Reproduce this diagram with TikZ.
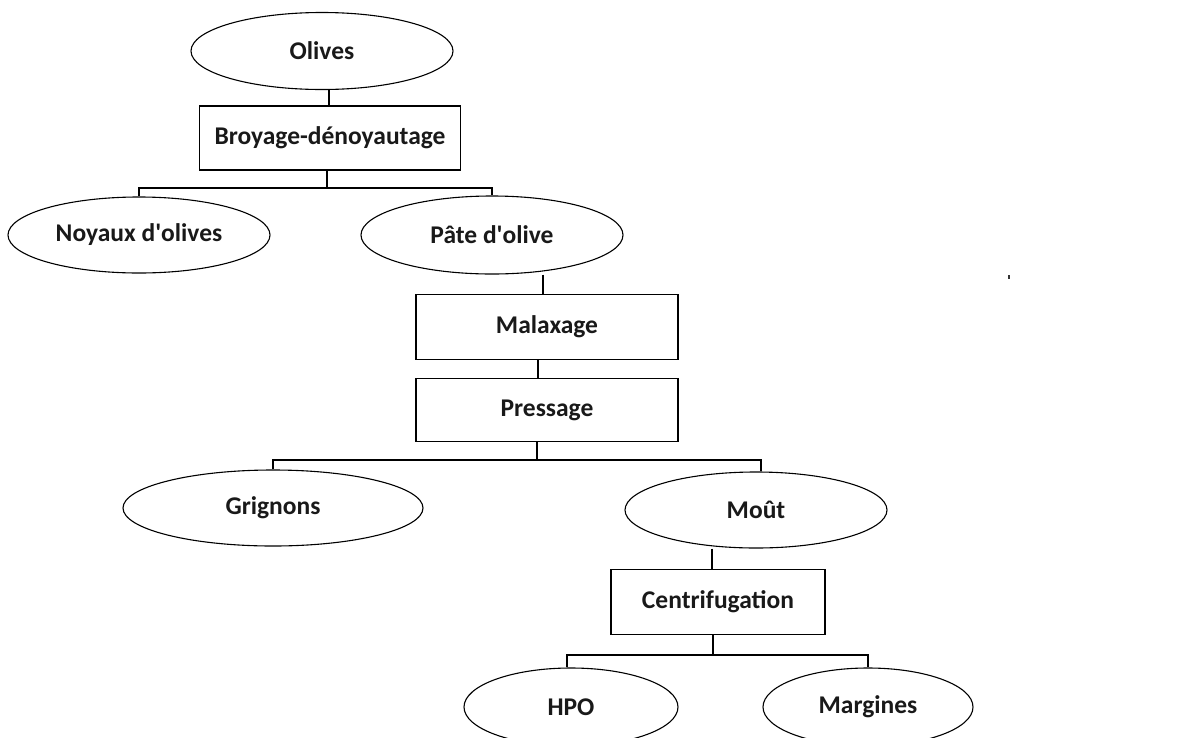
\documentclass[tikz,border=0pt]{standalone}
\usepackage{fontspec}
\setmainfont{Carlito}
\usetikzlibrary{shapes.geometric}
\begin{document}
\begin{tikzpicture}[x=1pt,y=-1pt,
  every node/.style={font=\fontsize{25.5}{30}\selectfont\bfseries, text=black!90},
  oval/.style={draw, ellipse, line width=1.1pt, inner sep=0pt},
  procbox/.style={draw, rectangle, line width=1.3pt, inner sep=0pt},
  link/.style={line width=1.3pt}]
\clip (0,0) rectangle (1184,737);
\fill[white] (0,0) rectangle (1184,737);
% nodes
\node[oval, minimum width=262pt, minimum height=77pt] (olives) at (322,51) {Olives};
\node[procbox, minimum width=261pt, minimum height=64pt] (broyage) at (330,138) {Broyage-dénoyautage};
\node[oval, minimum width=262pt, minimum height=76pt] (noyaux) at (139,235) {Noyaux d\textquotesingle olives};
\node[oval, minimum width=262pt, minimum height=78pt] (pate) at (492,235) {Pâte d\textquotesingle olive};
\node[procbox, minimum width=262pt, minimum height=65pt] (malax) at (547,327) {Malaxage};
\node[procbox, minimum width=262pt, minimum height=63pt] (press) at (547,410) {Pressage};
\node[oval, minimum width=300pt, minimum height=76pt] (grig) at (273,508) {Grignons};
\node[oval, minimum width=262pt, minimum height=76pt] (mout) at (756,510) {Moût};
\node[procbox, minimum width=214pt, minimum height=65pt] (centri) at (718,602) {Centrifugation};
\node[oval, minimum width=214pt, minimum height=78pt] (hpo) at (571,707) {HPO};
\node[oval, minimum width=210pt, minimum height=78pt] (marg) at (868,707) {Margines};
% junctions
\coordinate (j1) at (327,188);
\coordinate (j2) at (537,460);
\coordinate (j3) at (713,655);
% connectors
\draw[link] (olives.south -| 329,0) -- (broyage.north -| 329,0);
\draw[link] (broyage.south -| j1) -- (j1);
\draw[link] (noyaux.north) |- (j1) -| (pate.north);
\draw[link] (pate.south -| 543,0) -- (malax.north -| 543,0);
\draw[link] (malax.south -| 538,0) -- (press.north -| 538,0);
\draw[link] (press.south -| j2) -- (j2);
\draw[link] (grig.north) |- (j2) -| (mout.north -| 761,0);
\draw[link] (mout.south -| 712,0) -- (centri.north -| 712,0);
\draw[link] (centri.south -| j3) -- (j3);
\draw[link] (hpo.north -| 567,0) |- (j3) -| (marg.north);
% stray mark
\fill[black!80] (1007.5,275) rectangle (1009.5,279);
\end{tikzpicture}
\end{document}
